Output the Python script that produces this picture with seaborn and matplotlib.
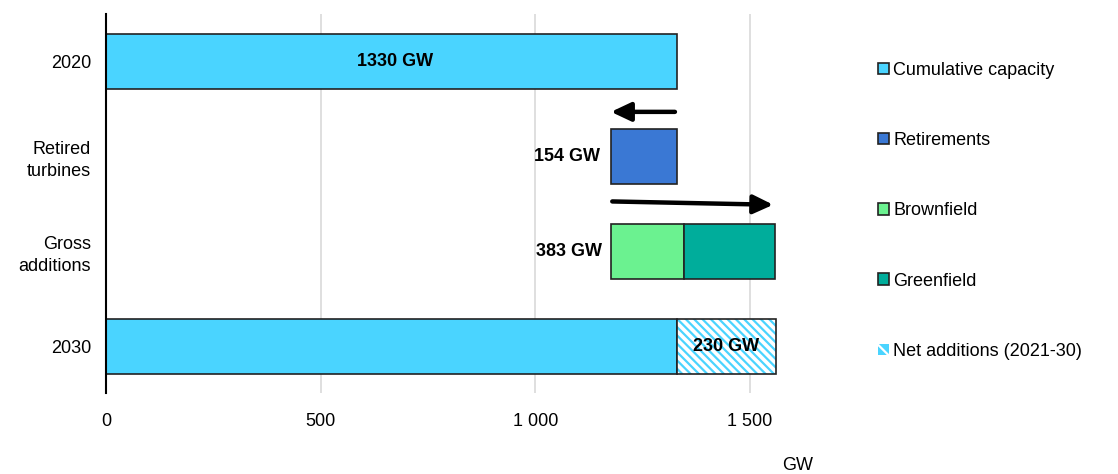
import pandas as pd
import seaborn as sns
import matplotlib.pyplot as plt
from matplotlib.patches import Patch

categories = ['2020', 'Retired\nturbines', 'Gross\nadditions', '2030']
cumulative = [1330, 0, 0, 1330]
retirements = 154
brownfield = 170
greenfield = 213
net_additions = 230
series_names = ['Cumulative capacity', 'Retirements', 'Brownfield', 'Greenfield',
                'Net additions (2021-30)']
xticks = [0, 500, 1000, 1500]
xtick_labels = ['0', '500', '1 000', '1 500']

colors = {'Cumulative capacity': '#4AD4FF', 'Retirements': '#3A78D4',
          'Brownfield': '#6BF290', 'Greenfield': '#00AD9B'}

sns.set_theme(style='white')
plt.rcParams['font.family'] = ['Liberation Sans', 'DejaVu Sans']
plt.rcParams['text.color'] = 'black'
plt.rcParams['xtick.color'] = 'black'
plt.rcParams['ytick.color'] = 'black'
plt.rcParams['hatch.linewidth'] = 1.6

FS = 13
df = pd.DataFrame({'category': categories, 'value': cumulative})

fig = plt.figure(figsize=(11.18, 4.74), dpi=100)
ax = fig.add_axes([0.095, 0.17, 0.64, 0.80])

h = 0.58
sns.barplot(data=df[df['value'] > 0], x='value', y='category', order=categories,
            color=colors['Cumulative capacity'], edgecolor='#222222', linewidth=1.2,
            width=h, saturation=1, ax=ax)

start = cumulative[0] - retirements
ax.barh(1, retirements, left=start, height=h, color=colors['Retirements'],
        edgecolor='#222222', linewidth=1.2)
ax.barh(2, brownfield, left=start, height=h, color=colors['Brownfield'],
        edgecolor='#222222', linewidth=1.2)
ax.barh(2, greenfield, left=start + brownfield, height=h, color=colors['Greenfield'],
        edgecolor='#222222', linewidth=1.2)
# hatched net additions: stripes first, outline on top
ax.barh(3, net_additions, left=cumulative[3], height=h, color='white',
        edgecolor=colors['Cumulative capacity'], hatch='\\\\\\\\', linewidth=0)
ax.barh(3, net_additions, left=cumulative[3], height=h, fill=False,
        edgecolor='#222222', linewidth=1.2)

# arrows
arrow = dict(arrowstyle='-|>,head_length=0.7,head_width=0.33', color='black', lw=3.2,
             mutation_scale=17, shrinkA=0, shrinkB=0)
ax.annotate('', xy=(start, 0.53), xytext=(cumulative[0] - 5, 0.53), arrowprops=arrow)
ax.annotate('', xy=(start + brownfield + greenfield - 5, 1.51), xytext=(start + 3, 1.475),
            arrowprops=arrow)

# labels
ax.text(673, 0, f'{cumulative[0]} GW', ha='center', va='center', fontsize=FS, fontweight='bold')
ax.text(start - 25, 1, f'{retirements} GW', ha='right', va='center', fontsize=FS, fontweight='bold')
ax.text(start - 20, 2, f'{brownfield + greenfield} GW', ha='right', va='center',
        fontsize=FS, fontweight='bold')
ax.text(cumulative[3] + net_additions / 2, 3, f'{net_additions} GW', ha='center', va='center',
        fontsize=FS, fontweight='bold')

ax.set_xlim(0, 1667)
ax.set_ylim(3.5, -0.5)
ax.set_xticks(xticks)
ax.set_xticklabels(xtick_labels, fontsize=FS)
ax.tick_params(axis='y', labelsize=FS, length=0, pad=11)
ax.tick_params(axis='x', length=0, pad=14)
for t in ax.get_yticklabels():
    t.set_linespacing(1.35)
ax.set_xlabel('')
ax.set_ylabel('')
ax.grid(axis='x', color='#d9d9d9', linewidth=1.2)
ax.set_axisbelow(True)
for s in ['top', 'right', 'bottom']:
    ax.spines[s].set_visible(False)
ax.spines['left'].set_color('black')
ax.spines['left'].set_linewidth(1.5)

fig.text(0.713, 0.0, 'GW', fontsize=FS, ha='center', va='bottom')

# legend
handles = [Patch(facecolor=colors[n], edgecolor='#222222', linewidth=1.2) for n in series_names[:4]]
handles.append(Patch(facecolor=colors['Cumulative capacity'], edgecolor='white',
                     hatch='\\\\', linewidth=0))
fig.legend(handles, series_names, loc='upper left', bbox_to_anchor=(0.779, 0.885),
           frameon=False, fontsize=FS, handlelength=0.6, handleheight=0.6,
           handletextpad=0.25, labelspacing=2.95, borderaxespad=0)

fig.savefig('out.png', dpi=100)
